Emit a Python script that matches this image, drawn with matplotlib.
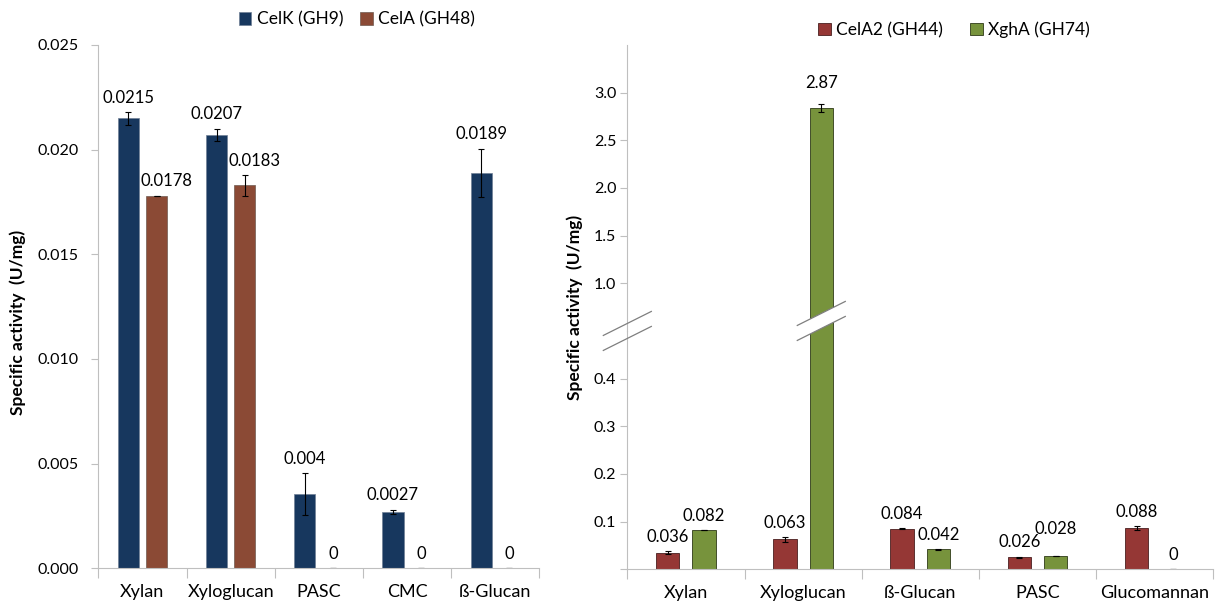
import numpy as np
import matplotlib
matplotlib.use("Agg")
import matplotlib.pyplot as plt
from matplotlib.patches import Polygon
from matplotlib.lines import Line2D

plt.rcParams['font.family'] = ['Lato', 'DejaVu Sans']

# 왼쪽 그래프 데이터
substrates_left = ['Xylan', 'Xyloglucan', 'PASC', 'CMC', 'ß-Glucan']
celk = [0.0215, 0.0207, 0.00355, 0.0027, 0.0189]
celk_err = [0.0003, 0.0003, 0.001, 0.0001, 0.00115]
celk_labels = ['0.0215', '0.0207', '0.004', '0.0027', '0.0189']
cela = [0.0178, 0.0183, 0, 0, 0]
cela_err = [0, 0.0005, 0, 0, 0]
cela_labels = ['0.0178', '0.0183', '0', '0', '0']

# 오른쪽 그래프 데이터
substrates_right = ['Xylan', 'Xyloglucan', 'ß-Glucan', 'PASC', 'Glucomannan']
cela2 = [0.035, 0.063, 0.085, 0.0255, 0.087]
cela2_err = [0.003, 0.005, 0.0006, 0.001, 0.004]
cela2_labels = ['0.036', '0.063', '0.084', '0.026', '0.088']
xgha = [0.082, 2.84, 0.042, 0.028, 0]
xgha_err = [0.0006, 0.045, 0.001, 0, 0]
xgha_labels = ['0.082', '2.87', '0.042', '0.028', '0']

C_CELK = '#17375E'
C_CELA = '#8B4A35'
C_CELA2 = '#953735'
C_XGHA = '#77933C'
GRAY = '#BFBFBF'

fig = plt.figure(figsize=(12.2, 6.08), dpi=100)


def style_axis(ax, pad):
    for s in ['top', 'right']:
        ax.spines[s].set_visible(False)
    ax.spines['left'].set_color(GRAY)
    ax.spines['bottom'].set_color(GRAY)
    ax.tick_params(axis='y', colors=GRAY, labelcolor='black', length=5,
                   width=0.8, labelsize=11.5, pad=pad)
    ax.tick_params(axis='x', colors=GRAY, labelcolor='black', length=0,
                   labelsize=13, pad=11)


def cat_ticks(ax, n):
    ax.set_xlim(-0.5, n - 0.5)
    ax.set_xticks(np.arange(n))
    ax.set_xticks(np.arange(n + 1) - 0.5, minor=True)
    ax.tick_params(axis='x', which='minor', length=7, color=GRAY, width=0.8)


def add_labels(ax, xs, vals, errs, texts, offset=4.5, shift=None):
    lo, hi = ax.get_ylim()
    shift = shift or {}
    for i, (x, v, e, t) in enumerate(zip(xs, vals, errs, texts)):
        top = v + e
        if top < lo or top > hi:
            continue
        sx, sy = shift.get(i, (0, 0))
        ax.annotate(t, (x, top), xytext=(sx, offset + sy), textcoords='offset points',
                    ha='center', va='bottom', fontsize=12)


# ---------------- 왼쪽 ----------------
axL = fig.add_axes([0.0806, 0.0653, 0.3615, 0.8607])
style_axis(axL, 9)
n = len(substrates_left)
x = np.arange(n)
w = 0.24
off = 0.16
ekw = dict(ecolor='black', elinewidth=0.8, capsize=2, capthick=0.8)
axL.bar(x - off, celk, w, yerr=celk_err, color=C_CELK, edgecolor='#6f7f95',
        linewidth=0.5, error_kw=ekw, label='CelK (GH9)')
axL.bar(x + off, cela, w, yerr=cela_err, color=C_CELA, edgecolor='#6f5a50',
        linewidth=0.5, error_kw=ekw, label='CelA (GH48)')
axL.set_ylim(0, 0.025)
axL.set_yticks(np.arange(0, 0.0251, 0.005))
axL.yaxis.set_major_formatter(matplotlib.ticker.FormatStrFormatter('%.3f'))
cat_ticks(axL, n)
axL.set_xticklabels(substrates_left)
add_labels(axL, x - off, celk, celk_err, celk_labels)
add_labels(axL, x + off, cela, cela_err, cela_labels, shift={0: (7, 0), 1: (7, 0)})
fig.text(0.0148, 0.47, 'Specific activity  (U/mg)', rotation=90, fontsize=12.5,
         fontweight='bold', ha='center', va='center')
hL, lL = axL.get_legend_handles_labels()
fig.legend(hL, lL, loc='center', bbox_to_anchor=(0.2926, 0.968), ncol=2,
           frameon=False, fontsize=12.5, handlelength=0.7, handleheight=0.7,
           handletextpad=0.3, columnspacing=1.0)

# ---------------- 오른쪽 (축 끊김) ----------------
m = len(substrates_right)
xr = np.arange(m)
wr = 0.2
offr = 0.155
axB = fig.add_axes([0.5142, 0.0637, 0.4803, 0.392])
axT = fig.add_axes([0.5142, 0.4556, 0.4803, 0.4704])
for ax in (axB, axT):
    style_axis(ax, 3)
    ax.bar(xr - offr, cela2, wr, yerr=cela2_err, color=C_CELA2, edgecolor='#4a2020',
           linewidth=0.6, error_kw=ekw, label='CelA2 (GH44)')
    ax.bar(xr + offr, xgha, wr, yerr=xgha_err, color=C_XGHA, edgecolor='#2f3a18',
           linewidth=0.6, error_kw=ekw, label='XghA (GH74)')
    cat_ticks(ax, m)

axB.set_ylim(0, 0.5)
axB.set_yticks([0, 0.1, 0.2, 0.3, 0.4])
axB.set_yticklabels(['', '0.1', '0.2', '0.3', '0.4'])
axB.set_xticklabels(substrates_right)
axB.spines['top'].set_visible(False)

axT.set_ylim(0.5, 3.5)
axT.set_yticks([1.0, 1.5, 2.0, 2.5, 3.0])
axT.yaxis.set_major_formatter(matplotlib.ticker.FormatStrFormatter('%.1f'))
axT.spines['bottom'].set_visible(False)
axT.tick_params(axis='x', which='both', length=0, labelbottom=False)

add_labels(axB, xr - offr, cela2, cela2_err, cela2_labels)
add_labels(axB, xr + offr, xgha, xgha_err, xgha_labels, shift={3: (0, 9)})
add_labels(axT, xr + offr, xgha, xgha_err, xgha_labels, offset=9)

hR, lR = axT.get_legend_handles_labels()
fig.legend(hR, lR, loc='center', bbox_to_anchor=(0.782, 0.951), ncol=2,
           frameon=False, fontsize=12.5, handlelength=0.7, handleheight=0.7,
           handletextpad=0.3, columnspacing=1.6)

fig.text(0.4713, 0.495, 'Specific activity  (U/mg)', rotation=90, fontsize=12.5,
         fontweight='bold', ha='center', va='center')

# 축 끊김 표시
to_fig = fig.transFigure.inverted()


def break_mark(cx, cy, cover=False):
    # cx, cy in display pixels
    dx, dy, gap = 24, 12, 7.5
    p1 = [(cx - dx, cy - dy + gap), (cx + dx, cy + dy + gap)]
    p2 = [(cx - dx, cy - dy - gap), (cx + dx, cy + dy - gap)]
    if cover:
        poly = [p1[0], p1[1], p2[1], p2[0]]
        fig.patches.append(Polygon(to_fig.transform(poly), closed=True,
                                   transform=fig.transFigure, facecolor='white',
                                   edgecolor='none', zorder=5))
    for p in (p1, p2):
        q = to_fig.transform(p)
        fig.lines.append(Line2D(q[:, 0], q[:, 1], transform=fig.transFigure,
                                color='#7f7f7f', lw=0.9, zorder=6))


y_edge = axB.transAxes.transform((0, 1))
break_mark(y_edge[0], y_edge[1])
big = int(np.argmax(xgha))
bx = axB.transData.transform((xr[big] + offr, 0))[0]
break_mark(bx, y_edge[1] + 10, cover=True)

fig.savefig('out.png', dpi=100)
